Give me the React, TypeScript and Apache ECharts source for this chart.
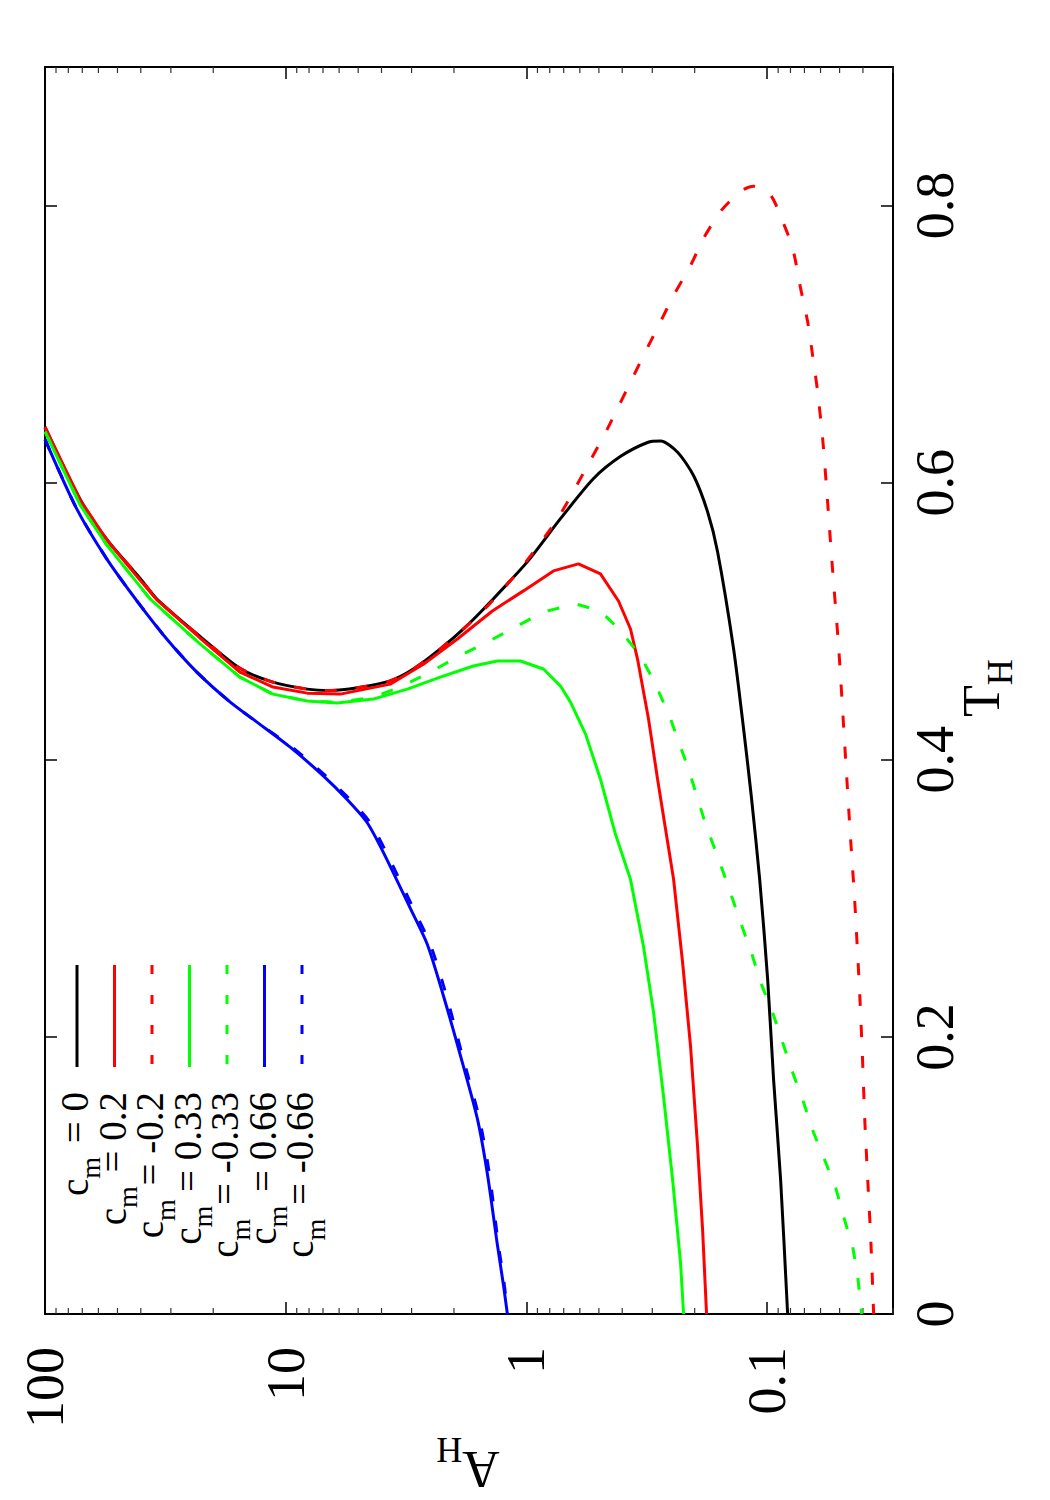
import React, { useEffect, useRef } from 'react';
import * as echarts from 'echarts';

// Each curve is a list of [A_H, T_H] points, drawn against a log10 A_H scale
// (A_H decreasing to the right) and a linear T_H scale on the right.
const cmLabels = ['0', '0.2', '-0.2', '0.33', '-0.33', '0.66', '-0.66'];
const curveColors = ['#000000', '#ff0000', '#ff0000', '#00ff00', '#00ff00', '#0000ff', '#0000ff'];
const curveDashed = [false, false, true, false, true, false, true];
const curveSmooth = [0.25, 0, 0.25, 0, 0, 0.25, 0.25];

const curveCm0 = [
  [100, 0.64], [71.5, 0.588], [55.4, 0.559], [40.3, 0.531], [34.3, 0.516], [22.7, 0.489],
  [15.5, 0.466], [11.3, 0.456], [8.14, 0.451], [6.53, 0.45], [5.04, 0.452], [3.68, 0.457],
  [2.95, 0.4655], [2.28, 0.48], [1.76, 0.497], [1.41, 0.514], [0.99, 0.543], [0.722, 0.574],
  [0.526, 0.603], [0.406, 0.619], [0.314, 0.629], [0.277, 0.63], [0.2355, 0.622], [0.202, 0.605],
  [0.1768, 0.579], [0.1606, 0.55], [0.1378, 0.48], [0.1252, 0.422], [0.116, 0.3715],
  [0.1074, 0.3137], [0.0995, 0.2414], [0.094, 0.169], [0.0879, 0.0969], [0.0822, 0],
];

const curveCm02 = [
  [100, 0.64], [71.5, 0.5876], [55.4, 0.5587], [40.3, 0.5298], [34.3, 0.5154], [22.7, 0.4879],
  [15.5, 0.4633], [11.3, 0.4525], [8.14, 0.4481], [5.93, 0.4474], [3.68, 0.4546], [2.68, 0.469],
  [1.936, 0.4872], [1.385, 0.5074], [1.029, 0.5219], [0.772, 0.5363], [0.608, 0.5414],
  [0.4925, 0.5342], [0.4145, 0.5146], [0.3695, 0.4944], [0.3455, 0.4727], [0.311, 0.4294],
  [0.2852, 0.386], [0.2642, 0.3498], [0.2447, 0.3137], [0.2245, 0.2537], [0.208, 0.193],
  [0.1945, 0.1207], [0.1854, 0.0607], [0.1785, 0],
];

const curveCmMinus02 = [
  [100, 0.64], [71.5, 0.588], [55.4, 0.559], [40.3, 0.531], [34.3, 0.516], [22.7, 0.489],
  [15.5, 0.466], [11.3, 0.456], [8.14, 0.451], [6.53, 0.45], [5.04, 0.452], [3.68, 0.457],
  [2.95, 0.4655], [2.28, 0.48], [1.76, 0.497], [1.41, 0.5132], [1.059, 0.5378], [0.743, 0.5739],
  [0.5577, 0.6122], [0.4604, 0.639], [0.3263, 0.6917], [0.277, 0.7163], [0.2447, 0.7351],
  [0.208, 0.7568], [0.1837, 0.7763], [0.1561, 0.7958], [0.1289, 0.8103], [0.1138, 0.8139],
  [0.0967, 0.8074], [0.0862, 0.7886], [0.0783, 0.7691], [0.0726, 0.7402], [0.0679, 0.7163],
  [0.0647, 0.6917], [0.0617, 0.6657], [0.0588, 0.6317], [0.0566, 0.5956], [0.0539, 0.545],
  [0.0504, 0.48], [0.0472, 0.4004], [0.045, 0.3426], [0.0433, 0.2992], [0.0412, 0.2291],
  [0.0401, 0.1814], [0.0393, 0.1402], [0.0382, 0.0969], [0.0371, 0.0535], [0.0361, 0],
];

const curveCm033 = [
  [100, 0.6368], [71.5, 0.584], [55.4, 0.5551], [36.6, 0.5161], [22.7, 0.4836], [15.5, 0.4597],
  [11.3, 0.4474], [8.14, 0.4424], [6.11, 0.4409], [4.33, 0.4438], [3.125, 0.451], [2.28, 0.4597],
  [1.661, 0.4677], [1.32, 0.4713], [1.059, 0.4713], [0.85, 0.4655], [0.722, 0.4532],
  [0.656, 0.4416], [0.568, 0.4185], [0.4925, 0.386], [0.4265, 0.3462], [0.3695, 0.3137],
  [0.3263, 0.2653], [0.2963, 0.2176], [0.2693, 0.1568], [0.247, 0.0969], [0.2289, 0.0369],
  [0.2224, 0],
];

const curveCmMinus033 = [
  [100, 0.6368], [71.5, 0.584], [55.4, 0.5551], [36.6, 0.5161], [22.7, 0.4836], [15.5, 0.4597],
  [11.3, 0.4474], [8.14, 0.4424], [5.93, 0.4416], [4.33, 0.4452], [3.342, 0.4525], [2.507, 0.4633],
  [1.936, 0.4742], [1.453, 0.485], [1.09, 0.4966], [0.85, 0.5067], [0.6255, 0.5125],
  [0.4925, 0.5074], [0.406, 0.493], [0.3357, 0.4749], [0.2908, 0.4546], [0.2519, 0.4294],
  [0.212, 0.3932], [0.1802, 0.3535], [0.1591, 0.3282], [0.1446, 0.3079], [0.1289, 0.2826],
  [0.1149, 0.258], [0.1064, 0.2393], [0.0949, 0.2176], [0.0862, 0.1959], [0.0783, 0.1742],
  [0.0705, 0.1525], [0.0641, 0.1308], [0.0577, 0.1113], [0.0519, 0.0911], [0.0481, 0.0701],
  [0.0441, 0.0484], [0.042, 0.0267], [0.0405, 0],
];

const curveCm066 = [
  [100, 0.6313], [73.8, 0.5811], [55.4, 0.545], [41.6, 0.5149], [31.2, 0.4872], [23.4, 0.4633],
  [17.0, 0.4416], [13.17, 0.4272], [9.58, 0.4091], [6.98, 0.3884], [5.57, 0.3715], [4.6, 0.3549],
  [3.93, 0.3332], [3.035, 0.2927], [2.58, 0.2667], [2.214, 0.2299], [1.88, 0.1865],
  [1.599, 0.141], [1.453, 0.1012], [1.32, 0.0499], [1.246, 0.021], [1.2, 0],
];

const curveCmMinus066 = [
  [100, 0.6313], [73.8, 0.5811], [55.4, 0.545], [41.6, 0.5149], [31.2, 0.4872], [23.4, 0.4633],
  [17.0, 0.4416], [13.17, 0.4272], [9.4, 0.4091], [6.82, 0.3884], [5.42, 0.3715], [4.47, 0.3549],
  [3.82, 0.3332], [2.95, 0.2927], [2.507, 0.2667], [2.15, 0.2299], [1.845, 0.1865],
  [1.568, 0.141], [1.425, 0.1012], [1.307, 0.0499], [1.235, 0.021], [1.2, 0],
];

const curves = [
  curveCm0, curveCm02, curveCmMinus02, curveCm033, curveCmMinus033, curveCm066, curveCmMinus066,
];

// Axis ranges and labelled ticks
const aHMin = 0.03;
const aHMax = 100;
const tHMin = 0;
const tHMax = 0.9;
const aHTickLabels = [100, 10, 1, 0.1];
const tHTickLabels = [0, 0.2, 0.4, 0.6, 0.8];

// Log-axis minor ticks (2..9 in every decade inside the range)
const aHMinorTicks: number[] = [];
for (let e = -2; e <= 1; e++) {
  for (let k = 2; k <= 9; k++) {
    const v = k * Math.pow(10, e);
    if (v >= aHMin - 1e-9 && v <= aHMax) aHMinorTicks.push(v);
  }
}

const toX = (a: number) => -Math.log10(a);
const FONT = 'Liberation Serif';

const App: React.FC = () => {
  const ref = useRef<HTMLDivElement>(null);

  useEffect(() => {
    if (!ref.current) return;
    const chart = echarts.init(ref.current, undefined, { renderer: 'svg' });

    const xFormatter = (v: number) => {
      const hit = aHTickLabels.find((a) => Math.abs(toX(a) - v) < 1e-6);
      return hit === undefined ? '' : String(hit);
    };
    const yFormatter = (v: number) => {
      const hit = tHTickLabels.find((t) => Math.abs(t - v) < 1e-6);
      return hit === undefined ? '' : String(hit);
    };

    const xAxisBase = {
      type: 'value',
      min: toX(aHMax),
      max: toX(aHMin),
      interval: 1,
      splitLine: { show: false },
      axisLine: { show: true, onZero: false, lineStyle: { color: '#000', width: 2 } },
      axisTick: { show: true, inside: true, length: 12, lineStyle: { color: '#000', width: 1.5 } },
    };
    const yAxisBase = {
      type: 'value',
      min: tHMin,
      max: tHMax,
      interval: 0.2,
      splitLine: { show: false },
      axisLine: { show: true, onZero: false, lineStyle: { color: '#000', width: 2 } },
      axisTick: { show: true, inside: true, length: 12, lineStyle: { color: '#000', width: 1.5 } },
    };

    const lineSeries = curves.map((pts, i) => ({
      name: 'c_m = ' + cmLabels[i],
      type: 'line',
      xAxisIndex: 0,
      yAxisIndex: 0,
      data: pts.map(([a, t]) => [toX(a), t]),
      showSymbol: false,
      symbol: 'none',
      smooth: curveSmooth[i] || false,
      lineStyle: {
        color: curveColors[i],
        width: 3,
        type: curveDashed[i] ? [12, 19] : 'solid',
      },
      z: 3 + i,
    }));

    const minorTickSeries = {
      type: 'custom',
      xAxisIndex: 0,
      yAxisIndex: 0,
      silent: true,
      clip: false,
      data: aHMinorTicks.map((a) => [toX(a), 0]),
      encode: { x: 0, y: 1 },
      renderItem: (_params: any, api: any) => {
        const bottom = api.coord([api.value(0), tHMin]);
        const top = api.coord([api.value(0), tHMax]);
        const style = { stroke: '#333', lineWidth: 1.2 };
        return {
          type: 'group',
          children: [
            { type: 'line', shape: { x1: bottom[0], y1: bottom[1], x2: bottom[0], y2: bottom[1] - 6 }, style },
            { type: 'line', shape: { x1: top[0], y1: top[1], x2: top[0], y2: top[1] + 6 }, style },
          ],
        };
      },
      z: 2,
    };

    // Key: vertical sample lines with rotated labels underneath
    const keyX0 = 77;
    const keyStep = 37.5;
    const keyGraphics: any[] = [];
    cmLabels.forEach((lab, i) => {
      const x = keyX0 + i * keyStep;
      keyGraphics.push({
        type: 'line',
        shape: { x1: x, y1: 965, x2: x, y2: 1067 },
        style: {
          stroke: curveColors[i],
          lineWidth: 3,
          lineDash: curveDashed[i] ? [9, 21] : null,
        },
      });
      keyGraphics.push({
        type: 'text',
        x: x + 13,
        y: 1092,
        rotation: Math.PI / 2,
        style: {
          text: '{c|c}{m|m}{c| = ' + lab + '}',
          align: 'right',
          verticalAlign: 'middle',
          textAlign: 'right',
          textVerticalAlign: 'middle',
          fill: '#000',
          rich: {
            c: { fontSize: 39, fontFamily: FONT, lineHeight: 39, verticalAlign: 'top', fill: '#000' },
            m: {
              fontSize: 28,
              fontFamily: FONT,
              lineHeight: 70,
              verticalAlign: 'middle',
              padding: [0, 4, 0, 0],
              fill: '#000',
            },
          },
        },
      });
    });

    const nameRich = {
      a: { fontSize: 52, fontFamily: FONT, lineHeight: 52, verticalAlign: 'top', fill: '#000' },
      s: { fontSize: 36, fontFamily: FONT, lineHeight: 90, verticalAlign: 'middle', fill: '#000' },
    };

    chart.setOption({
      animation: false,
      backgroundColor: '#ffffff',
      grid: { left: 45, top: 67, width: 848, height: 1247, containLabel: false },
      xAxis: [
        {
          ...xAxisBase,
          position: 'bottom',
          axisLabel: {
            show: true,
            rotate: 90,
            margin: 33,
            fontSize: 54,
            fontFamily: FONT,
            color: '#000',
            formatter: xFormatter,
          },
        },
        { ...xAxisBase, position: 'top', axisLabel: { show: false } },
      ],
      yAxis: [
        {
          ...yAxisBase,
          position: 'right',
          axisLabel: {
            show: true,
            rotate: 90,
            margin: 15,
            fontSize: 54,
            fontFamily: FONT,
            color: '#000',
            formatter: yFormatter,
          },
        },
        { ...yAxisBase, position: 'left', axisLabel: { show: false } },
      ],
      series: [minorTickSeries, ...lineSeries],
      graphic: [
        {
          type: 'text',
          x: 468,
          y: 1450,
          rotation: Math.PI,
          style: {
            text: '{a|A}{s|H}',
            align: 'center',
            verticalAlign: 'middle',
            textAlign: 'center',
            textVerticalAlign: 'middle',
            fill: '#000',
            rich: nameRich,
          },
        },
        {
          type: 'text',
          x: 1000,
          y: 688,
          rotation: Math.PI / 2,
          style: {
            text: '{a|T}{s|H}',
            align: 'center',
            verticalAlign: 'middle',
            textAlign: 'center',
            textVerticalAlign: 'middle',
            fill: '#000',
            rich: nameRich,
          },
        },
        ...keyGraphics,
      ],
    });

    return () => chart.dispose();
  }, []);

  return (
    <div
      ref={ref}
      style={{ position: 'absolute', left: 0, top: 0, width: 1050, height: 1500, background: '#fff' }}
    />
  );
};

export default App;
